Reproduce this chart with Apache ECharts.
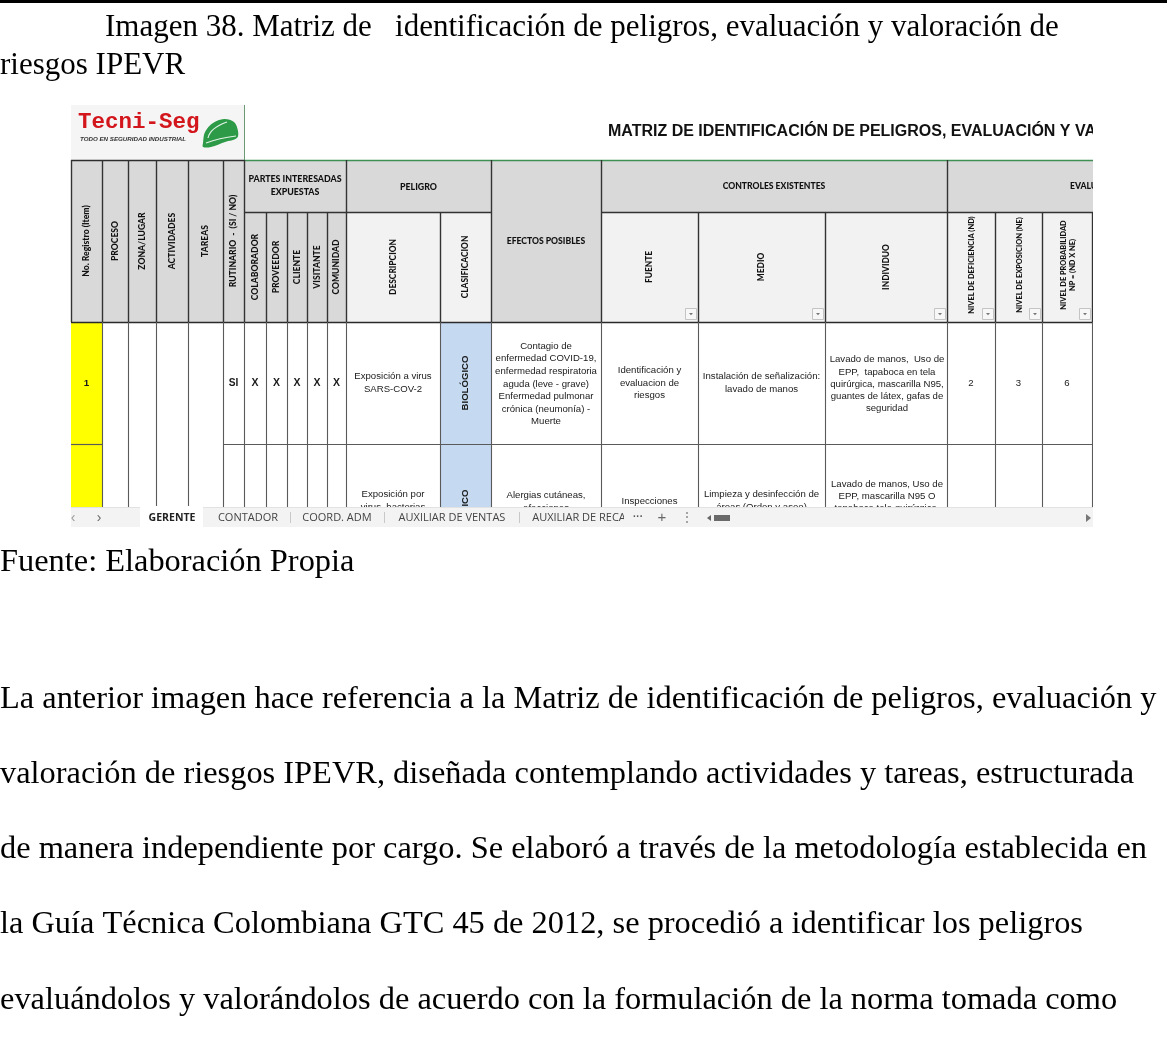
<!DOCTYPE html>
<html><head><meta charset="utf-8">
<script src="https://cdn.jsdelivr.net/npm/echarts@6/dist/echarts.min.js"></script>
<style>html,body{margin:0;padding:0;background:#fff}#c{width:1167px;height:1045px}</style>
</head><body><div id="c"></div>
<script>
// ---------------- DATA ----------------
const captionLines = ['Imagen 38. Matriz de   identificación de peligros, evaluación y valoración de', 'riesgos IPEVR'];
const sourceNote = 'Fuente: Elaboración Propia';
const paragraphLines = [
  'La anterior imagen hace referencia a la Matriz de identificación de peligros, evaluación y',
  'valoración de riesgos IPEVR, diseñada contemplando actividades y tareas, estructurada',
  'de manera independiente por cargo. Se elaboró a través de la metodología establecida en',
  'la Guía Técnica Colombiana GTC 45 de 2012, se procedió a identificar los peligros',
  'evaluándolos y valorándolos de acuerdo con la formulación de la norma tomada como'
];
const sheetTitle = 'MATRIZ DE IDENTIFICACIÓN DE PELIGROS, EVALUACIÓN Y VALORACIÓN DE RIESGOS';
const logoName = 'Tecni-Seg';
const logoTagline = 'TODO EN SEGURIDAD INDUSTRIAL';
const leftHeaders = ['No. Registro (Item)', 'PROCESO', 'ZONA/LUGAR', 'ACTIVIDADES', 'TAREAS', 'RUTINARIO  -  (SI / NO)'];
const groupHeaders = ['PARTES INTERESADAS\nEXPUESTAS', 'PELIGRO', 'EFECTOS POSIBLES', 'CONTROLES EXISTENTES', 'EVALUACIÓN DEL RIESGO'];
const partesHeaders = ['COLABORADOR', 'PROVEEDOR', 'CLIENTE', 'VISITANTE', 'COMUNIDAD'];
const peligroHeaders = ['DESCRIPCION', 'CLASIFICACION'];
const controlesHeaders = ['FUENTE', 'MEDIO', 'INDIVIDUO'];
const evaluacionHeaders = ['NIVEL DE DEFICIENCIA (ND)', 'NIVEL DE EXPOSICION (NE)', 'NIVEL DE PROBABILIDAD\nNP = (ND X NE)'];

const itemNumbers = ['1', ''];
const rutinario = ['SI', ''];
const partesMarks = [['X', 'X', 'X', 'X', 'X'], ['', '', '', '', '']];
const descripcion = ['Exposición a virus\nSARS-COV-2', 'Exposición por\nvirus, bacterias'];
const clasificacion = ['BIOLÓGICO', 'BIOLÓGICO'];
const efectos = [
  'Contagio de\nenfermedad COVID-19,\nenfermedad respiratoria\naguda (leve - grave)\nEnfermedad pulmonar\ncrónica (neumonía) -\nMuerte',
  'Alergias cutáneas,\nafecciones'
];
const fuente = ['Identificación y\nevaluacion de\nriesgos', 'Inspecciones'];
const medio = ['Instalación de señalización:\nlavado de manos', 'Limpieza y desinfección de\náreas (Orden y aseo)'];
const individuo = [
  'Lavado de manos,  Uso de\nEPP,  tapaboca en tela\nquirúrgica, mascarilla N95,\nguantes de látex, gafas de\nseguridad',
  'Lavado de manos, Uso de\nEPP, mascarilla N95 O\ntapaboca tela quirúrgica,\nguantes de látex'
];
const nivelDeficiencia = ['2', ''];
const nivelExposicion = ['3', ''];
const nivelProbabilidad = ['6', ''];
const sheetTabs = ['GERENTE', 'CONTADOR', 'COORD. ADM', 'AUXILIAR DE VENTAS', 'AUXILIAR DE RECA'];

// ---------------- LAYOUT ----------------
const colEdges = [71,102,128,156,188,223,244,266,287,307,327,346,440,491,601,698,825,947,995,1042,1092,1150];
const sheet = {left:71, right:1093, top:105, logoRight:244, headTop:160, headMid:212, headBottom:322, tabTop:507, tabBottom:527};
const rowEdges = [322, 444, 558];
const clasRow2Bottom = 590;
const tabCenters = [172, 248, 337, 452, 579];
const tabSeparators = [290, 384, 519];
const docFont = 'Liberation Serif';
const cellFont = 'Liberation Sans';
const headFont = 'Lato';

const cc = i => (colEdges[i] + colEdges[i + 1]) / 2;
const els = [];
function R(x, y, w, h, fill, z, stroke) {
  els.push({type:'rect', z: z || 1, silent:true, shape:{x, y, width:w, height:h},
    style:{fill, stroke: stroke || null, lineWidth: stroke ? 1 : 0}});
}
function L(x1, y1, x2, y2, stroke, w, z) {
  els.push({type:'line', z: z || 2, silent:true, shape:{x1, y1, x2, y2}, style:{stroke, lineWidth: w || 1}});
}
function T(x, y, text, o) {
  o = o || {};
  const size = o.size || 9.6;
  els.push({type:'text', z: o.z || 3, silent:true, x, y, rotation: o.rot || 0,
    style:{text, fill: o.color || '#1a1a1a', fontSize: size, fontFamily: o.family || cellFont,
      fontWeight: o.weight || 'normal', fontStyle: o.style || 'normal',
      align: o.align || 'center', verticalAlign: o.va || 'middle', lineHeight: o.lh || Math.round(size * 1.3)}});
}
const ROT = Math.PI / 2;
const HEAD = '#d9d9d9', SUB = '#f2f2f2', LINE_H = '#333333', LINE_D = '#5a5a5a', HEAD_TXT = '#111111';

// ---------------- PAGE TEXT ----------------
R(0, 0, 1167, 3, '#000', 9);
T(105, 28, captionLines[0], {family:docFont, size:31, align:'left', color:'#000', z:9});
T(0, 66, captionLines[1], {family:docFont, size:31, align:'left', color:'#000', z:9});
T(0, 562, sourceNote, {family:docFont, size:32.4, align:'left', color:'#000', z:9});
paragraphLines.forEach((s, i) => T(0, 699 + i * 75.3, s, {family:docFont, size:32.4, align:'left', color:'#000', z:9}));

// ---------------- SPREADSHEET: logo + title ----------------
R(sheet.left, sheet.top, sheet.logoRight - sheet.left, sheet.headTop - sheet.top, '#f5f5f5', 1);
L(244.5, sheet.top, 244.5, sheet.headTop, '#6b9a74', 1, 2);
T(78, 122, logoName, {family:'Liberation Mono', weight:'bold', size:22.5, color:'#d3151c', align:'left'});
T(80, 139.5, logoTagline, {size:6.2, weight:'bold', style:'italic', align:'left', color:'#333'});
els.push({type:'polygon', z:3, silent:true, x:199, y:116,
  shape:{smooth:0.35, points:[[4,27],[6,16],[14,7],[25,3],[35,6],[39,15],[38,22],[26,26],[12,31],[4,31]]},
  style:{fill:'#2c9a47'}});
els.push({type:'bezierCurve', z:4, silent:true, x:199, y:116,
  shape:{x1:9, y1:22, cpx1:11, cpy1:12, x2:28, y2:6},
  style:{fill:null, stroke:'#e3f3e6', lineWidth:1.2}});
els.push({type:'bezierCurve', z:4, silent:true, x:199, y:116,
  shape:{x1:7, y1:27, cpx1:20, cpy1:22, x2:37, y2:20},
  style:{fill:null, stroke:'#e3f3e6', lineWidth:1.1}});
T(608, 132, sheetTitle, {weight:'bold', size:16, align:'left', color:'#111'});

// ---------------- HEADER ----------------
L(sheet.left, 160.5, 244, 160.5, '#2d2d2d', 1.5, 2);
L(244, 160.5, sheet.right, 160.5, '#3f8f55', 1.3, 2);
R(colEdges[0], sheet.headTop, colEdges[6] - colEdges[0], sheet.headBottom - sheet.headTop, HEAD);
R(colEdges[6], sheet.headTop, sheet.right - colEdges[6], sheet.headMid - sheet.headTop, HEAD);
R(colEdges[6], sheet.headMid, colEdges[11] - colEdges[6], sheet.headBottom - sheet.headMid, HEAD);
R(colEdges[11], sheet.headMid, colEdges[13] - colEdges[11], sheet.headBottom - sheet.headMid, SUB);
R(colEdges[13], sheet.headTop, colEdges[14] - colEdges[13], sheet.headBottom - sheet.headTop, HEAD);
R(colEdges[14], sheet.headMid, sheet.right - colEdges[14], sheet.headBottom - sheet.headMid, SUB);
[0,1,2,3,4,5,6,11,13,14,17].forEach(i => L(colEdges[i] + 0.5, sheet.headTop, colEdges[i] + 0.5, sheet.headBottom, LINE_H, 1.4));
[7,8,9,10,12,15,16,18,19,20].forEach(i => L(colEdges[i] + 0.5, sheet.headMid, colEdges[i] + 0.5, sheet.headBottom, LINE_H, 1.4));
L(colEdges[6], sheet.headMid + 0.5, colEdges[13], sheet.headMid + 0.5, LINE_H, 1.4);
L(colEdges[14], sheet.headMid + 0.5, sheet.right, sheet.headMid + 0.5, LINE_H, 1.4);
L(sheet.left, sheet.headBottom + 0.5, sheet.right, sheet.headBottom + 0.5, '#2a2a2a', 1.7);

const hMid = (sheet.headTop + sheet.headBottom) / 2;
const h2Mid = (sheet.headMid + sheet.headBottom) / 2;
const h1Mid = (sheet.headTop + sheet.headMid) / 2;
const hb = {family:headFont, weight:'900', color:HEAD_TXT};
leftHeaders.forEach((s, i) => T(cc(i), hMid, s, Object.assign({size:8.6, rot:ROT}, hb)));
partesHeaders.forEach((s, i) => T(cc(6 + i), h2Mid, s, Object.assign({size:8.6, rot:ROT}, hb)));
peligroHeaders.forEach((s, i) => T(cc(11 + i), h2Mid, s, Object.assign({size:8.4, rot:ROT}, hb)));
controlesHeaders.forEach((s, i) => T(cc(14 + i), h2Mid, s, Object.assign({size:8.4, rot:ROT}, hb)));
evaluacionHeaders.forEach((s, i) => T(cc(17 + i) + 1, h2Mid - 2, s, Object.assign({size:7.4, lh:9.5, rot:ROT}, hb)));
T((colEdges[6] + colEdges[11]) / 2, h1Mid, groupHeaders[0], Object.assign({size:8.8, lh:13}, hb));
T((colEdges[11] + colEdges[13]) / 2, h1Mid + 1, groupHeaders[1], Object.assign({size:8.8}, hb));
T(cc(13), hMid, groupHeaders[2], Object.assign({size:8.6}, hb));
T((colEdges[14] + colEdges[17]) / 2, h1Mid, groupHeaders[3], Object.assign({size:8.6}, hb));
T(1070, h1Mid, groupHeaders[4], Object.assign({size:8.6, align:'left'}, hb));
for (let i = 14; i <= 19; i++) {
  const bx = colEdges[i + 1] - 12.5, by = sheet.headBottom - 13.5;
  R(bx, by, 11, 11, '#f7f7f7', 3, '#c4c4c4');
  els.push({type:'polygon', z:4, silent:true, shape:{points:[[bx + 3.5, by + 4.5], [bx + 7.5, by + 4.5], [bx + 5.5, by + 6.8]]}, style:{fill:'#777'}});
}

// ---------------- DATA ROWS ----------------
const dataTop = rowEdges[0], dataBottom = rowEdges[rowEdges.length - 1];
R(sheet.left, dataTop, sheet.right - sheet.left, dataBottom - dataTop, '#ffffff', 0);
R(colEdges[0], dataTop, colEdges[1] - colEdges[0], dataBottom - dataTop, '#ffff00', 1);
R(colEdges[12], dataTop, colEdges[13] - colEdges[12], clasRow2Bottom - dataTop, '#c5d9f1', 1);
for (let i = 1; i <= 20; i++) L(colEdges[i] + 0.5, dataTop, colEdges[i] + 0.5, clasRow2Bottom, LINE_D, 1.1);
L(colEdges[0], rowEdges[1] + 0.5, colEdges[1], rowEdges[1] + 0.5, LINE_D, 1.2);
L(colEdges[5], rowEdges[1] + 0.5, sheet.right, rowEdges[1] + 0.5, LINE_D, 1.2);

for (let r = 0; r < 2; r++) {
  const cy = (rowEdges[r] + rowEdges[r + 1]) / 2;
  T(cc(0), cy, itemNumbers[r], {weight:'bold', size:9.8});
  T(cc(5), cy, rutinario[r], {weight:'bold', size:10.2});
  partesMarks[r].forEach((m, k) => T(cc(6 + k), cy, m, {weight:'bold', size:10.5}));
  T(cc(11), cy, descripcion[r], {lh:12.5});
  const clasCy = r === 0 ? cy : (rowEdges[1] + clasRow2Bottom) / 2;
  T(cc(12), clasCy, clasificacion[r], {weight:'bold', size:9.6, rot:ROT});
  T(cc(13), cy + 1, efectos[r], {lh:12.6});
  T(cc(14), cy, fuente[r], {lh:12.5});
  T(cc(15), cy, medio[r], {lh:12.5});
  T(cc(16) + 1, cy + 1, individuo[r], {lh:12.1});
  T(cc(17), cy, nivelDeficiencia[r]);
  T(cc(18), cy, nivelExposicion[r]);
  T(cc(19), cy, nivelProbabilidad[r]);
}

// ---------------- SHEET TAB BAR ----------------
R(sheet.left, sheet.tabTop, sheet.right - sheet.left, sheet.tabBottom - sheet.tabTop, '#f3f3f3', 6);
L(sheet.left, sheet.tabTop + 0.5, sheet.right, sheet.tabTop + 0.5, '#e2e2e2', 1, 6);
R(140, sheet.tabTop - 1, 63, sheet.tabBottom - sheet.tabTop + 1, '#ffffff', 6);
const tabY = (sheet.tabTop + sheet.tabBottom) / 2 + 1;
T(73, tabY, '‹', {size:14, color:'#999', z:7});
T(99, tabY, '›', {size:14, color:'#666', z:7});
sheetTabs.forEach((s, i) => T(tabCenters[i], tabY, s, {family:'Open Sans', size:i === 0 ? 10.5 : 11, weight:i === 0 ? 'bold' : 'normal', color:i === 0 ? '#222' : '#444', z:7}));
R(624, sheet.tabTop + 2, 8, 17, '#f3f3f3', 7);
tabSeparators.forEach(x => L(x + 0.5, sheet.tabTop + 5, x + 0.5, sheet.tabBottom - 4, '#c8c8c8', 1, 7));
T(638, tabY - 1, '···', {size:10, weight:'bold', color:'#555', z:7});
T(662, tabY, '+', {size:15, color:'#666', z:7});
T(687, tabY, '⋮', {size:12, color:'#777', z:7});
els.push({type:'polygon', z:7, silent:true, shape:{points:[[707, tabY], [711, tabY - 3], [711, tabY + 3]]}, style:{fill:'#666'}});
R(714, tabY - 3, 16, 6, '#6a6a6a', 7);
els.push({type:'polygon', z:7, silent:true, shape:{points:[[1091, tabY], [1086, tabY - 4], [1086, tabY + 4]]}, style:{fill:'#777'}});

// ---------------- CLIPPING COVERS ----------------
R(sheet.right, 100, 1167 - sheet.right, 432, '#ffffff', 8);
R(sheet.left - 2, sheet.tabBottom, sheet.right - sheet.left + 4, 80, '#ffffff', 8);

const chart = echarts.init(document.getElementById('c'), null, {renderer:'canvas'});
chart.setOption({animation:false, backgroundColor:'#ffffff', graphic:{elements:els}});
</script>
</body></html>
